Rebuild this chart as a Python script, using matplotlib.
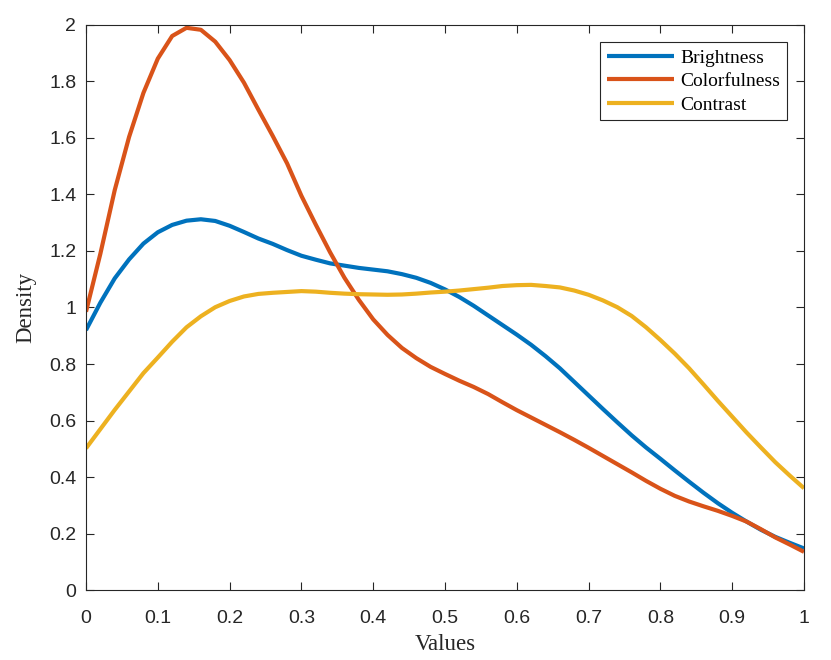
import numpy as np
import matplotlib
matplotlib.use("Agg")
import matplotlib.pyplot as plt

x_values = np.round(np.arange(0, 1.0001, 0.02), 3)

brightness = [0.920, 1.017, 1.103, 1.170, 1.226, 1.266, 1.292, 1.307, 1.312, 1.306,
              1.289, 1.267, 1.244, 1.225, 1.203, 1.183, 1.169, 1.156, 1.148, 1.140,
              1.134, 1.128, 1.118, 1.105, 1.087, 1.064, 1.037, 1.006, 0.972, 0.938,
              0.904, 0.868, 0.828, 0.785, 0.737, 0.689, 0.641, 0.594, 0.548, 0.505,
              0.465, 0.424, 0.384, 0.345, 0.308, 0.274, 0.243, 0.214, 0.189, 0.168, 0.148]

colorfulness = [0.985, 1.19, 1.415, 1.603, 1.759, 1.88, 1.96, 1.989, 1.982, 1.94,
                1.875, 1.795, 1.70, 1.607, 1.51, 1.395, 1.293, 1.195, 1.105, 1.027,
                0.958, 0.903, 0.857, 0.821, 0.790, 0.765, 0.741, 0.719, 0.694, 0.665,
                0.637, 0.611, 0.585, 0.559, 0.532, 0.504, 0.475, 0.446, 0.417, 0.387,
                0.359, 0.334, 0.314, 0.297, 0.281, 0.263, 0.243, 0.216, 0.187, 0.162, 0.136]

contrast = [0.502, 0.57, 0.638, 0.703, 0.768, 0.823, 0.879, 0.930, 0.969, 1.001,
            1.023, 1.039, 1.048, 1.052, 1.055, 1.058, 1.056, 1.052, 1.049, 1.047,
            1.046, 1.045, 1.046, 1.049, 1.053, 1.056, 1.060, 1.065, 1.070, 1.076,
            1.079, 1.080, 1.076, 1.071, 1.060, 1.045, 1.025, 1.001, 0.970, 0.930,
            0.885, 0.837, 0.785, 0.728, 0.670, 0.614, 0.558, 0.505, 0.453, 0.406, 0.361]

series_names = ["Brightness", "Colorfulness", "Contrast"]
series_colors = ["#0072BD", "#D95319", "#EDB120"]

x_ticks = [0, 0.1, 0.2, 0.3, 0.4, 0.5, 0.6, 0.7, 0.8, 0.9, 1]
x_ticklabels = ["0", "0.1", "0.2", "0.3", "0.4", "0.5", "0.6", "0.7", "0.8", "0.9", "1"]
y_ticks = [0, 0.2, 0.4, 0.6, 0.8, 1, 1.2, 1.4, 1.6, 1.8, 2]
y_ticklabels = ["0", "0.2", "0.4", "0.6", "0.8", "1", "1.2", "1.4", "1.6", "1.8", "2"]

fig = plt.figure(figsize=(8.31, 6.6), dpi=100)
ax = fig.add_axes([86/831, 1 - 590.3/660, 718/831, 565.6/660])

for vals, name, col in zip([brightness, colorfulness, contrast], series_names, series_colors):
    ax.plot(x_values, vals, color=col, lw=3.0, label=name, solid_capstyle="butt",
            solid_joinstyle="round")

ax.set_xlim(0, 1)
ax.set_ylim(0, 2)
ax.set_xticks(x_ticks)
ax.set_xticklabels(x_ticklabels)
ax.set_yticks(y_ticks)
ax.set_yticklabels(y_ticklabels)

axcol = "#262626"
for s in ax.spines.values():
    s.set_color(axcol)
    s.set_linewidth(0.8)
ax.tick_params(direction="in", length=5.5, width=0.8, color=axcol, top=True, right=True,
               labelsize=14, labelcolor=axcol)
ax.tick_params(axis="x", pad=14)
ax.tick_params(axis="y", pad=7)
for lab in ax.get_xticklabels() + ax.get_yticklabels():
    lab.set_fontfamily("Liberation Sans")

ax.set_xlabel("Values", fontsize=16.5, fontfamily="Liberation Serif", color=axcol, labelpad=5.5)
ax.set_ylabel("Density", fontsize=16.5, fontfamily="Liberation Serif", color=axcol, labelpad=9)

leg = ax.legend(loc="upper right", bbox_to_anchor=(0.976, 0.969), frameon=True, fancybox=False,
                edgecolor="#262626", framealpha=1, prop={"family": "Liberation Serif", "size": 14},
                handlelength=3.45, handletextpad=0.3, labelspacing=0.3, borderpad=0.35,
                borderaxespad=0)
leg.get_frame().set_linewidth(0.8)

fig.savefig("out.png", dpi=100)
